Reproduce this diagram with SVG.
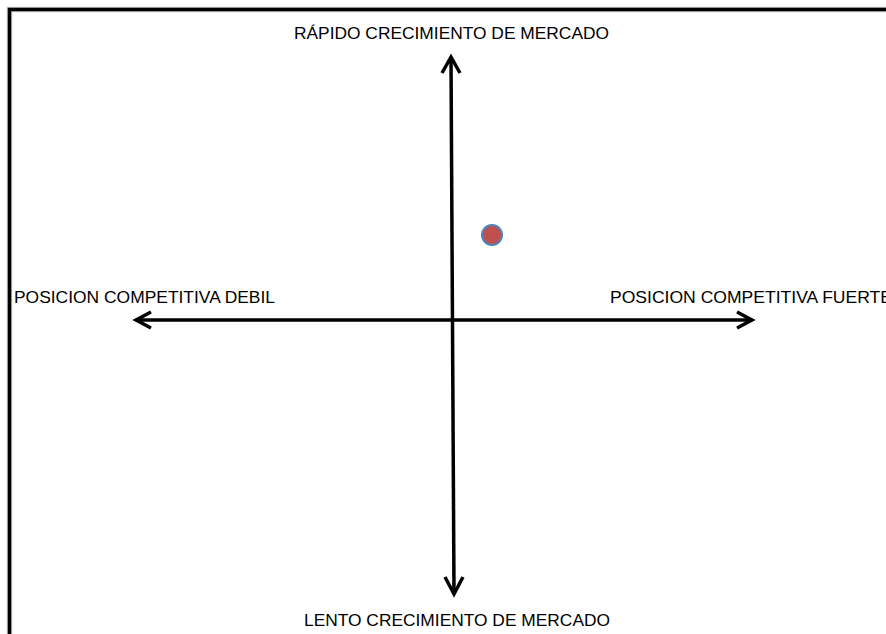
<svg xmlns="http://www.w3.org/2000/svg" width="886" height="634" viewBox="0 0 886 634">
<defs>
<style>
.lbl{font-family:"Liberation Sans",Arial,sans-serif;font-size:17px;fill:#000;}
.ax{stroke:#000;stroke-width:3.5;fill:none;stroke-linecap:butt;}
.hd{stroke:#000;stroke-width:3.5;fill:none;stroke-linejoin:miter;stroke-linecap:butt;}
</style>
</defs>
<rect x="0" y="0" width="886" height="634" fill="#fff"/>
<g id="frame">
<rect x="9.5" y="9.5" width="900" height="700" fill="none" stroke="#c8c8c8" stroke-width="5.5"/>
<rect x="9.5" y="9.5" width="900" height="700" fill="none" stroke="#000" stroke-width="3.5"/>
</g>
<g id="connectors">
<line class="ax" x1="451" y1="59" x2="454" y2="592"/>
<path class="hd" d="M442,73 L451,57 L460,73"/>
<path class="hd" d="M445,577 L454,594 L463,577"/>
<line class="ax" x1="138" y1="320" x2="750" y2="320"/>
<path class="hd" d="M151,312 L136,320 L151,328"/>
<path class="hd" d="M737,312 L752,320 L737,328"/>
</g>
<g id="label-top"><text class="lbl" x="294" y="39" textLength="315" lengthAdjust="spacingAndGlyphs">RÁPIDO CRECIMIENTO  DE MERCADO</text></g>
<g id="label-bottom"><text class="lbl" x="304" y="626" textLength="306" lengthAdjust="spacingAndGlyphs">LENTO CRECIMIENTO  DE MERCADO</text></g>
<g id="label-left"><text class="lbl" x="14" y="303" textLength="261" lengthAdjust="spacingAndGlyphs">POSICION  COMPETITIVA  DEBIL</text></g>
<g id="label-right"><text class="lbl" x="610" y="303" textLength="282" lengthAdjust="spacingAndGlyphs">POSICION  COMPETITIVA  FUERTE</text></g>
<g id="point"><circle cx="492" cy="235" r="10" fill="#c0504d" stroke="#4f81bd" stroke-width="2"/></g>
</svg>
